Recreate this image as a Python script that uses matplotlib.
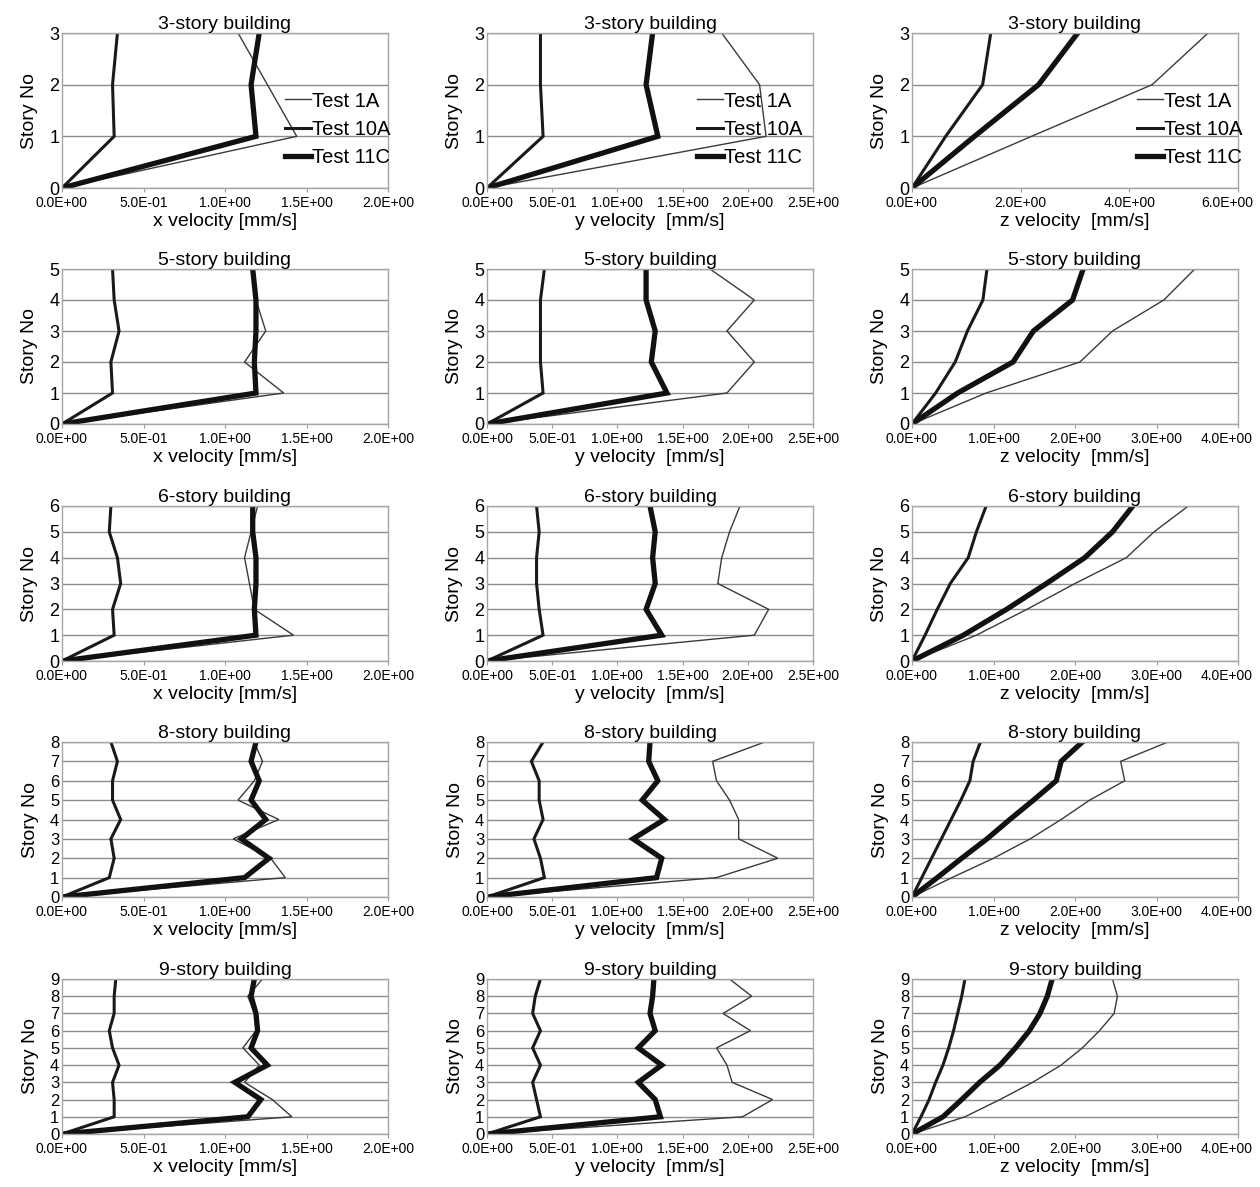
import numpy as np
import matplotlib.pyplot as plt
import matplotlib.transforms as mtransforms
from matplotlib.ticker import FormatStrFormatter

# peak velocities [mm/s] per story (story 0 = ground)
stories = [3, 5, 6, 8, 9]

# 3-story
x3_1a = [0, 1.44, 1.26, 1.08]
x3_10a = [0, 0.32, 0.31, 0.34]
x3_11c = [0, 1.19, 1.16, 1.21]
y3_1a = [0, 2.14, 2.09, 1.80]
y3_10a = [0, 0.43, 0.41, 0.41]
y3_11c = [0, 1.31, 1.22, 1.27]
z3_1a = [0, 2.20, 4.42, 5.45]
z3_10a = [0, 0.62, 1.30, 1.45]
z3_11c = [0, 1.15, 2.33, 3.05]

# 5-story
x5_1a = [0, 1.36, 1.12, 1.25, 1.19, 1.17]
x5_10a = [0, 0.31, 0.30, 0.35, 0.32, 0.31]
x5_11c = [0, 1.19, 1.18, 1.19, 1.19, 1.17]
y5_1a = [0, 1.84, 2.05, 1.84, 2.05, 1.71]
y5_10a = [0, 0.43, 0.41, 0.41, 0.41, 0.44]
y5_11c = [0, 1.38, 1.26, 1.29, 1.22, 1.22]
z5_1a = [0, 0.91, 2.06, 2.46, 3.09, 3.47]
z5_10a = [0, 0.29, 0.53, 0.68, 0.87, 0.92]
z5_11c = [0, 0.56, 1.24, 1.49, 1.97, 2.10]

# 6-story
x6_1a = [0, 1.42, 1.18, 1.15, 1.12, 1.16, 1.20]
x6_10a = [0, 0.32, 0.31, 0.36, 0.34, 0.29, 0.30]
x6_11c = [0, 1.19, 1.18, 1.19, 1.19, 1.17, 1.17]
y6_1a = [0, 2.05, 2.16, 1.77, 1.80, 1.86, 1.94]
y6_10a = [0, 0.43, 0.40, 0.38, 0.38, 0.40, 0.38]
y6_11c = [0, 1.34, 1.22, 1.29, 1.27, 1.29, 1.25]
z6_1a = [0, 0.79, 1.41, 2.00, 2.63, 2.97, 3.39]
z6_10a = [0, 0.16, 0.31, 0.47, 0.69, 0.79, 0.91]
z6_11c = [0, 0.63, 1.16, 1.65, 2.12, 2.46, 2.71]

# 8-story
x8_1a = [0, 1.37, 1.28, 1.05, 1.33, 1.08, 1.18, 1.23, 1.18]
x8_10a = [0, 0.29, 0.32, 0.30, 0.36, 0.31, 0.31, 0.34, 0.30]
x8_11c = [0, 1.12, 1.27, 1.10, 1.25, 1.16, 1.21, 1.16, 1.19]
y8_1a = [0, 1.76, 2.23, 1.93, 1.93, 1.86, 1.76, 1.73, 2.13]
y8_10a = [0, 0.44, 0.41, 0.36, 0.43, 0.40, 0.40, 0.34, 0.43]
y8_11c = [0, 1.30, 1.34, 1.12, 1.36, 1.19, 1.31, 1.24, 1.25]
z8_1a = [0, 0.49, 1.00, 1.45, 1.83, 2.18, 2.61, 2.56, 3.14]
z8_10a = [0, 0.12, 0.24, 0.36, 0.48, 0.60, 0.71, 0.75, 0.84]
z8_11c = [0, 0.31, 0.61, 0.92, 1.20, 1.49, 1.77, 1.83, 2.09]

# 9-story
x9_1a = [0, 1.41, 1.29, 1.12, 1.21, 1.11, 1.19, 1.18, 1.14, 1.23]
x9_10a = [0, 0.32, 0.32, 0.31, 0.35, 0.31, 0.29, 0.32, 0.32, 0.33]
x9_11c = [0, 1.14, 1.22, 1.06, 1.26, 1.16, 1.20, 1.19, 1.16, 1.18]
y9_1a = [0, 1.96, 2.19, 1.88, 1.84, 1.76, 2.02, 1.81, 2.03, 1.86]
y9_10a = [0, 0.41, 0.38, 0.35, 0.41, 0.35, 0.41, 0.35, 0.37, 0.41]
y9_11c = [0, 1.33, 1.29, 1.16, 1.34, 1.16, 1.29, 1.25, 1.27, 1.28]
z9_1a = [0, 0.65, 1.08, 1.48, 1.83, 2.09, 2.30, 2.48, 2.52, 2.46]
z9_10a = [0, 0.11, 0.21, 0.29, 0.38, 0.45, 0.51, 0.56, 0.61, 0.65]
z9_11c = [0, 0.38, 0.61, 0.83, 1.08, 1.27, 1.44, 1.57, 1.66, 1.72]

data = {
    3: [(x3_1a, x3_10a, x3_11c), (y3_1a, y3_10a, y3_11c), (z3_1a, z3_10a, z3_11c)],
    5: [(x5_1a, x5_10a, x5_11c), (y5_1a, y5_10a, y5_11c), (z5_1a, z5_10a, z5_11c)],
    6: [(x6_1a, x6_10a, x6_11c), (y6_1a, y6_10a, y6_11c), (z6_1a, z6_10a, z6_11c)],
    8: [(x8_1a, x8_10a, x8_11c), (y8_1a, y8_10a, y8_11c), (z8_1a, z8_10a, z8_11c)],
    9: [(x9_1a, x9_10a, x9_11c), (y9_1a, y9_10a, y9_11c), (z9_1a, z9_10a, z9_11c)],
}
test_names = ['Test 1A', 'Test 10A', 'Test 11C']
xlabels = ['x velocity [mm/s]', 'y velocity  [mm/s]', 'z velocity  [mm/s]']
xticks_col = [[0, 0.5, 1.0, 1.5, 2.0], [0, 0.5, 1.0, 1.5, 2.0, 2.5], [0, 1.0, 2.0, 3.0, 4.0]]
xticks_3z = [0, 2.0, 4.0, 6.0]

widths = [1.0, 2.2, 3.8]
colors = ['#3a3a3a', '#1a1a1a', '#111111']

W, H = 1260, 1187
lefts = [62, 487, 912]
tops = [33, 269, 506, 742, 979]
aw, ah = 326, 155
leg_x = [0.685, 0.645, 0.69]

plt.rcParams['font.family'] = ['Liberation Sans', 'DejaVu Sans']
fig = plt.figure(figsize=(W / 100, H / 100), dpi=100)

for r, n in enumerate(stories):
    for c in range(3):
        ax = fig.add_axes([lefts[c] / W, 1 - (tops[r] + ah) / H, aw / W, ah / H])
        lev = np.arange(n + 1)
        for k in range(3):
            ax.plot(data[n][c][k], lev, color=colors[k], linewidth=widths[k],
                    label=test_names[k], solid_joinstyle='miter')
        ticks = xticks_3z if (n == 3 and c == 2) else xticks_col[c]
        ax.set_xlim(0, ticks[-1])
        ax.set_ylim(0, n)
        ax.set_xticks(ticks)
        ax.set_yticks(lev)
        ax.xaxis.set_major_formatter(FormatStrFormatter('%.1E'))
        ax.tick_params(axis='x', labelsize=10, length=3, color='#999999', pad=3)
        ax.tick_params(axis='y', labelsize=13 if n < 8 else 12, length=0, pad=2)
        if c == 2:
            # last label pulled in so it stays inside the figure
            lab = ax.get_xticklabels()[-1]
            lab.set_transform(lab.get_transform() +
                              mtransforms.ScaledTranslation(-8 / 72, 0, fig.dpi_scale_trans))
        ax.grid(axis='y', color='#8c8c8c', linewidth=1.0)
        ax.set_axisbelow(True)
        for s in ax.spines.values():
            s.set_color('#a6a6a6')
            s.set_linewidth(1.0)
        ax.set_title('%d-story building' % n, fontsize=14, pad=1)
        ax.set_xlabel(xlabels[c], fontsize=14, labelpad=2)
        ax.set_ylabel('Story No', fontsize=14, labelpad=8)
        if r == 0:
            ax.legend(loc='center left', bbox_to_anchor=(leg_x[c], 0.38), frameon=False,
                      fontsize=14.5, borderpad=0, borderaxespad=0, handlelength=1.3,
                      handletextpad=0.05, labelspacing=0.45)

plt.savefig('out.png', dpi=100)
